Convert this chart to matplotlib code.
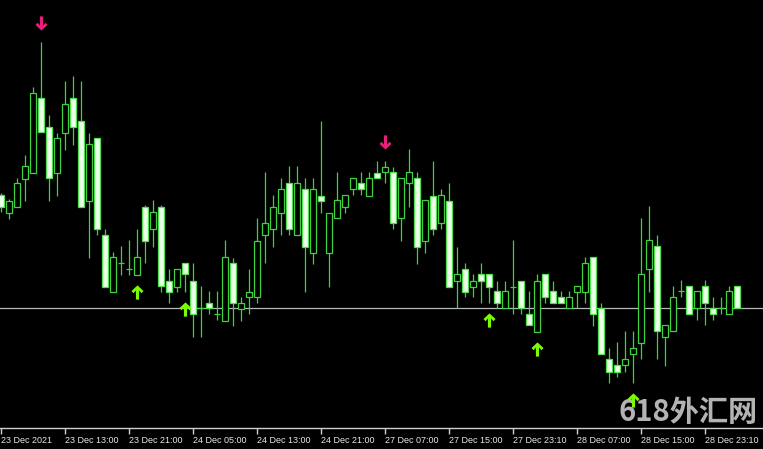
import matplotlib
matplotlib.use("Agg")
import matplotlib.pyplot as plt
from matplotlib.path import Path
import numpy as np

# Hourly OHLC (arbitrary price points)
opens  = [305,287,293,321,327,402,373,327,367,402,379,299,362,265,208,237,231,225,293,271,
          293,219,213,237,219,192,197,186,179,237,191,203,203,265,271,287,317,265,311,247,
          304,247,282,293,311,317,304,327,328,328,282,317,322,259,304,277,299,219,231,213,
          226,226,209,192,213,219,186,168,226,209,203,192,208,208,243,192,141,135,135,146,
          157,231,254,163,169,209,214,192,214,192,192,186,214]
highs  = [307,301,322,345,413,458,385,367,419,424,419,367,362,271,248,254,260,271,295,300,
          295,231,231,237,237,214,209,209,260,242,203,231,282,328,305,322,334,334,322,322,
          379,287,328,305,322,328,328,339,339,333,322,351,328,300,339,311,317,253,237,226,
          237,226,219,219,260,219,209,226,226,219,209,209,214,243,243,197,152,158,169,169,
          282,294,265,175,214,220,214,209,220,203,203,214,214]
lows   = [288,281,293,299,327,368,299,304,350,355,293,242,265,213,208,225,225,225,237,253,
          208,197,208,208,163,163,186,180,179,174,179,186,197,237,253,265,265,265,208,236,
          287,213,282,287,305,305,304,322,317,271,259,293,236,247,265,271,213,192,203,203,
          197,197,192,192,186,186,175,168,197,197,197,192,192,197,174,146,117,123,128,117,
          141,208,141,134,169,203,186,180,175,180,186,186,192]
closes = [293,299,317,334,407,368,322,362,396,373,293,356,271,213,243,237,231,243,259,288,
          214,208,231,226,186,192,192,186,243,197,197,208,259,277,293,311,271,317,253,311,
          299,287,300,305,322,311,322,322,333,277,322,328,253,300,271,305,213,226,208,219,
          219,213,197,209,213,192,175,219,203,197,197,203,214,237,186,146,128,128,141,152,
          226,260,169,175,203,209,186,209,197,186,192,209,192]

tick_idx = [0, 8, 16, 24, 32, 40, 48, 56, 64, 72, 80, 88]
tick_labels = ["23 Dec 2021", "23 Dec 13:00", "23 Dec 21:00", "24 Dec 05:00",
               "24 Dec 13:00", "24 Dec 21:00", "27 Dec 07:00", "27 Dec 15:00",
               "27 Dec 23:10", "28 Dec 07:00", "28 Dec 15:00", "28 Dec 23:10"]

sell_signals = [5, 48]
buy_signals = [17, 23, 61, 67, 79]
level = 192

o = np.array(opens); h = np.array(highs); l = np.array(lows); c = np.array(closes)
x = np.arange(len(o))

W, H = 763, 449
fig = plt.figure(figsize=(W/100, H/100), dpi=100, facecolor="black")
ax = fig.add_axes([0, (H-428)/H, 1, 428/H], facecolor="none")

green = "#3fd23f"
ax.axhline(level, color="#b8b8b8", lw=0.9, zorder=1)
ax.vlines(x, l, h, color=green, lw=0.9, zorder=2)

up = c >= o
body_w = 0.68
ax.bar(x[up], (c - o)[up], bottom=o[up], width=body_w, color="black",
       edgecolor=green, linewidth=0.9, zorder=3)
ax.bar(x[~up], (o - c)[~up], bottom=c[~up], width=body_w, color="#eaffe6",
       edgecolor="#52e052", linewidth=0.9, zorder=3)

# arrow marker shapes (MT4 style)
up_verts = [(0, 1), (0.85, 0.2), (0.55, -0.1), (0.22, 0.28), (0.22, -1), (-0.22, -1),
            (-0.22, 0.28), (-0.55, -0.1), (-0.85, 0.2), (0, 1)]
up_arrow = Path(up_verts, closed=True)
down_arrow = Path([(vx, -vy) for vx, vy in up_verts], closed=True)

sx = np.array(sell_signals); bx = np.array(buy_signals)
ax.scatter(sx, h[sx] + 19, marker=down_arrow, s=105, color="#e8207c",
           linewidths=0, zorder=4, clip_on=False)
ax.scatter(bx, l[bx] - 17, marker=up_arrow, s=105, color="#7cfc00",
           linewidths=0, zorder=4, clip_on=False)

ax.set_xlim(-0.125, -0.125 + W/8)
ax.set_ylim(500 - 428, 500)
for s in ["top", "left", "right"]:
    ax.spines[s].set_visible(False)
ax.spines["bottom"].set_color("#d0d0d0")
ax.spines["bottom"].set_linewidth(1)
ax.set_yticks([])
ax.set_xticks(tick_idx)
ax.set_xticklabels(tick_labels, fontsize=6.5, color="#e6e6e6",
                   fontfamily="Liberation Sans", ha="left")
ax.tick_params(axis="x", direction="out", length=4, width=1, color="#d0d0d0", pad=2)

fig.text(618/W, 1 - 412/H, "618外汇网", fontsize=21, fontweight="bold",
         color="#d4d4d4", alpha=0.85, ha="left", va="center", zorder=-1,
         family=["Noto Sans CJK SC", "DejaVu Sans"])

fig.savefig("out.png", dpi=100, facecolor="black")
